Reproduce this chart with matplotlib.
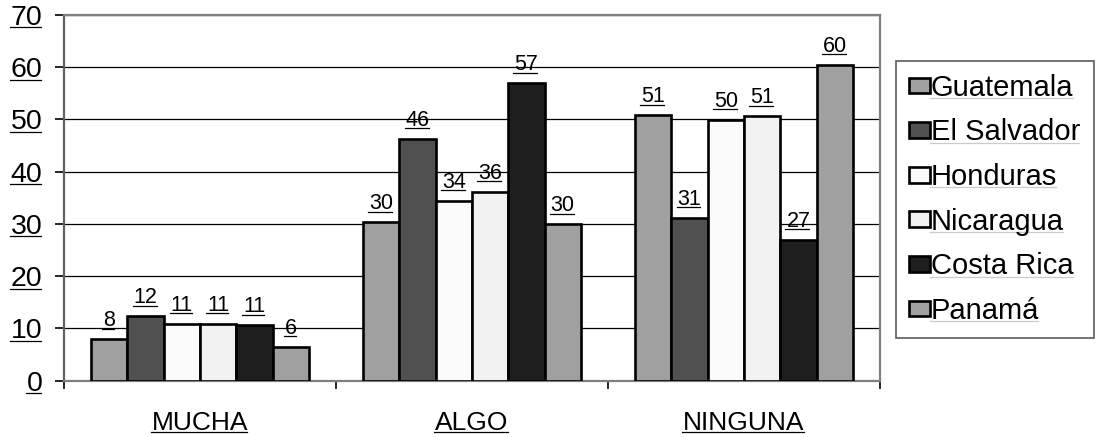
import matplotlib
matplotlib.use('Agg')
import matplotlib.pyplot as plt
from matplotlib.lines import Line2D
from matplotlib.patches import Patch
import numpy as np

plt.rcParams['font.family'] = ['Liberation Sans', 'DejaVu Sans']

# data
categories = ['MUCHA', 'ALGO', 'NINGUNA']
countries = ['Guatemala', 'El Salvador', 'Honduras', 'Nicaragua', 'Costa Rica', 'Panamá']
values = {
    'Guatemala':   [7.9, 30.3, 50.8],
    'El Salvador': [12.3, 46.3, 31.1],
    'Honduras':    [10.9, 34.4, 49.9],
    'Nicaragua':   [10.9, 36.1, 50.6],
    'Costa Rica':  [10.6, 56.9, 26.9],
    'Panamá':      [6.4, 29.9, 60.4],
}
colors = ['#a0a0a0', '#505050', '#fafafa', '#f2f2f2', '#1e1e1e', '#a0a0a0']

fig = plt.figure(figsize=(10.96, 4.37), dpi=100)
ax = fig.add_axes([64/1096, 1 - 380.7/437, (880 - 64)/1096, (380.7 - 15)/437])

n = len(countries)
bw = 0.8 / n
centers = np.arange(len(categories)) + 0.5
value_texts = []
for i, c in enumerate(countries):
    xs = centers - 0.4 + bw * (i + 0.5)
    bars = ax.bar(xs, values[c], width=bw, color=colors[i], edgecolor='black',
                  linewidth=1.9, zorder=3, label=c)
    for b, v in zip(bars, values[c]):
        t = ax.annotate('%d' % round(v), (b.get_x() + b.get_width() / 2, v),
                        xytext=(0, 13), textcoords='offset pixels',
                        ha='center', va='baseline', fontsize=15.5, zorder=4)
        value_texts.append(t)

ax.set_xlim(0, 3)
ax.set_ylim(0, 70)
ax.set_yticks(range(0, 71, 10))
ax.yaxis.grid(True, color='black', linewidth=0.9, zorder=0)
ax.set_axisbelow(True)

ax.set_xticks(centers)
ax.set_xticklabels(categories, fontsize=19)
ax.tick_params(axis='x', length=0, pad=22)
ax.set_xticks([0, 1, 2, 3], minor=True)
ax.tick_params(axis='x', which='minor', length=6, width=1.2, color='black', direction='out')
ax.tick_params(axis='y', length=6.5, width=1.2, color='black', labelsize=20.5, pad=9)

for s in ax.spines.values():
    s.set_color('#808080')
    s.set_linewidth(1.6)
ax.spines['left'].set_color('#606060')

handles = [Patch(facecolor=colors[i], edgecolor='black', linewidth=1.9) for i in range(n)]
leg = fig.legend(handles, countries, loc='upper left',
                 bbox_to_anchor=(896/1096, 1 - 60.7/437),
                 fontsize=21, frameon=True, fancybox=False, shadow=False,
                 handlelength=0.7, handleheight=0.45, handletextpad=0.05,
                 labelspacing=0.57, borderpad=0.45, borderaxespad=0)
leg.get_frame().set_edgecolor('#333333')
leg.get_frame().set_linewidth(1.2)

# underline every text like in the original
fig.canvas.draw()
renderer = fig.canvas.get_renderer()
W, H = fig.bbox.width, fig.bbox.height
texts = list(ax.get_xticklabels()) + list(ax.get_yticklabels()) + value_texts + list(leg.get_texts())
for t in texts:
    if not t.get_visible() or not t.get_text():
        continue
    bb = t.get_window_extent(renderer)
    fs = t.get_fontsize() * 100 / 72
    y = bb.y0 + 0.13 * fs
    fig.add_artist(Line2D([(bb.x0 - 1) / W, (bb.x1 - 1) / W], [y / H, y / H],
                          transform=fig.transFigure, color='black', linewidth=0.9))

fig.savefig('out.png', dpi=100)
